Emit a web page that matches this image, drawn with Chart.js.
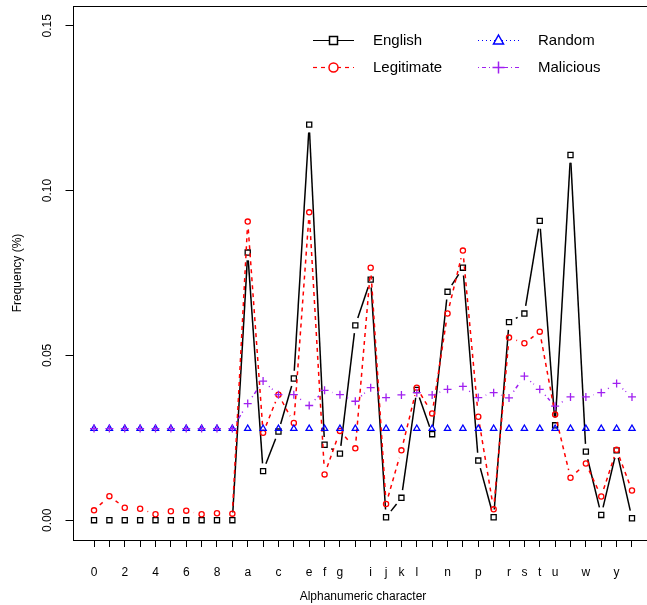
<!DOCTYPE html>
<html>
<head>
<meta charset="utf-8">
<script src="https://cdn.jsdelivr.net/npm/chart.js@4/dist/chart.umd.min.js"></script>
<style>
  html, body { margin: 0; padding: 0; background: #fff; overflow: hidden; }
  #wrap { position: relative; width: 660px; height: 605px; }
</style>
</head>
<body>
<div id="wrap"><canvas id="chart"></canvas></div>
<script>
// categories on the x axis
const categories = ['0','1','2','3','4','5','6','7','8','9',
  'a','b','c','d','e','f','g','h','i','j','k','l','m',
  'n','o','p','q','r','s','t','u','v','w','x','y','z'];

// labels R kept after dropping the overlapping ones
const shownLabels = ['0','2','4','6','8','a','c','e','f','g','i','j','k','l','n','p','r','s','t','u','w','y'];

const english = [0, 0, 0, 0, 0, 0, 0, 0, 0, 0,
  0.0812, 0.0149, 0.0269, 0.0430, 0.1200, 0.0229, 0.0202, 0.0591, 0.0730, 0.0009,
  0.0068, 0.0395, 0.0261, 0.0693, 0.0766, 0.0181, 0.0009, 0.0601, 0.0627, 0.0908,
  0.0288, 0.1108, 0.0208, 0.0016, 0.0212, 0.0006];

const legitimate = [0.0030, 0.0073, 0.0038, 0.0035, 0.0018, 0.0027, 0.0029, 0.0018, 0.0021, 0.0020,
  0.0906, 0.0265, 0.0381, 0.0295, 0.0934, 0.0139, 0.0271, 0.0218, 0.0766, 0.0049,
  0.0212, 0.0402, 0.0324, 0.0627, 0.0818, 0.0314, 0.0033, 0.0554, 0.0537, 0.0572,
  0.0321, 0.0129, 0.0172, 0.0072, 0.0214, 0.0090];

const random = [0.0278, 0.0278, 0.0278, 0.0278, 0.0278, 0.0278, 0.0278, 0.0278, 0.0278, 0.0278,
  0.0278, 0.0278, 0.0278, 0.0278, 0.0278, 0.0278, 0.0278, 0.0278, 0.0278, 0.0278,
  0.0278, 0.0278, 0.0278, 0.0278, 0.0278, 0.0278, 0.0278, 0.0278, 0.0278, 0.0278,
  0.0278, 0.0278, 0.0278, 0.0278, 0.0278, 0.0278];

const malicious = [0.0278, 0.0278, 0.0278, 0.0278, 0.0278, 0.0278, 0.0278, 0.0278, 0.0278, 0.0278,
  0.0354, 0.0422, 0.0381, 0.0381, 0.0348, 0.0394, 0.0381, 0.0361, 0.0402, 0.0372,
  0.0380, 0.0387, 0.0380, 0.0397, 0.0406, 0.0372, 0.0387, 0.0371, 0.0437, 0.0397,
  0.0346, 0.0374, 0.0374, 0.0387, 0.0415, 0.0374];

const yTicks = [0, 0.05, 0.10, 0.15];
const yTickLabels = ['0.00', '0.05', '0.10', '0.15'];

const FONT = '"Liberation Sans", Arial, Helvetica, sans-serif';
const PURPLE = '#A020F0';
const GAP = 7.8; // R type="b": lines stop short of the points

const toXY = arr => arr.map((v, i) => ({ x: i, y: v }));

function series(label, data, color, dash, style, radius, order) {
  return {
    label: label,
    data: toXY(data),
    showLine: false,
    borderColor: color,
    borderWidth: 1.5,
    rDash: dash,
    pointStyle: style,
    pointRadius: radius,
    pointBorderColor: color,
    pointBackgroundColor: 'rgba(0,0,0,0)',
    pointBorderWidth: 1.3,
    order: order
  };
}

// connect the library's points, leaving a gap round each point
const gapLines = {
  id: 'gapLines',
  afterDatasetDraw(chart, args) {
    const ds = chart.data.datasets[args.index];
    const pts = args.meta.data;
    const ctx = chart.ctx;
    ctx.save();
    ctx.strokeStyle = ds.borderColor;
    ctx.lineWidth = ds.borderWidth;
    ctx.setLineDash(ds.rDash);
    for (let i = 1; i < pts.length; i++) {
      const p0 = pts[i - 1], p1 = pts[i];
      const dx = p1.x - p0.x, dy = p1.y - p0.y;
      const len = Math.hypot(dx, dy);
      if (len <= 2 * GAP) continue;
      const ux = dx / len, uy = dy / len;
      ctx.beginPath();
      ctx.moveTo(p0.x + ux * GAP, p0.y + uy * GAP);
      ctx.lineTo(p1.x - ux * GAP, p1.y - uy * GAP);
      ctx.stroke();
    }
    ctx.restore();
  }
};

// R style: box, rotated y labels, axis titles, two-column legend
const rStyle = {
  id: 'rStyle',
  afterDraw(chart) {
    const ctx = chart.ctx;
    const a = chart.chartArea;
    const y = chart.scales.y;
    ctx.save();
    ctx.strokeStyle = '#000';
    ctx.lineWidth = 1;
    ctx.setLineDash([]);
    ctx.strokeRect(Math.round(a.left) + 0.5, Math.round(a.top) + 0.5,
      Math.round(a.right - a.left), Math.round(a.bottom - a.top));

    ctx.fillStyle = '#000';
    ctx.font = '12px ' + FONT;
    ctx.textAlign = 'center';
    ctx.textBaseline = 'middle';
    yTicks.forEach((v, i) => {
      ctx.save();
      ctx.translate(48, y.getPixelForValue(v));
      ctx.rotate(-Math.PI / 2);
      ctx.fillText(yTickLabels[i], 0, 0);
      ctx.restore();
    });
    ctx.save();
    ctx.translate(18, (a.top + a.bottom) / 2);
    ctx.rotate(-Math.PI / 2);
    ctx.fillText('Frequency (%)', 0, 0);
    ctx.restore();
    ctx.fillText('Alphanumeric character', (a.left + a.right) / 2, 597);

    // legend
    const items = [
      { text: 'English', color: '#000', dash: [], shape: 'square', x: 313, y: 40 },
      { text: 'Legitimate', color: '#FF0000', dash: [4, 4], shape: 'circle', x: 313, y: 67 },
      { text: 'Random', color: '#0000FF', dash: [1, 3], shape: 'triangle', x: 478, y: 40 },
      { text: 'Malicious', color: PURPLE, dash: [1, 3, 4, 3], shape: 'plus', x: 478, y: 67 }
    ];
    ctx.font = '15px ' + FONT;
    ctx.textAlign = 'left';
    items.forEach(it => {
      ctx.strokeStyle = it.color;
      ctx.lineWidth = 1.2;
      ctx.setLineDash(it.dash);
      ctx.beginPath();
      ctx.moveTo(it.x, it.y + 0.5);
      ctx.lineTo(it.x + 41, it.y + 0.5);
      ctx.stroke();
      ctx.setLineDash([]);
      ctx.lineWidth = 1.5;
      const cx = it.x + 20.5, cy = it.y + 0.5;
      ctx.beginPath();
      if (it.shape === 'square') {
        ctx.fillStyle = '#fff';
        ctx.fillRect(cx - 4, cy - 4, 8, 8);
        ctx.strokeRect(cx - 4, cy - 4, 8, 8);
      } else if (it.shape === 'circle') {
        ctx.fillStyle = '#fff';
        ctx.arc(cx, cy, 4.5, 0, Math.PI * 2);
        ctx.fill();
        ctx.stroke();
      } else if (it.shape === 'triangle') {
        ctx.fillStyle = '#fff';
        ctx.moveTo(cx, cy - 5.5);
        ctx.lineTo(cx + 5, cy + 3.5);
        ctx.lineTo(cx - 5, cy + 3.5);
        ctx.closePath();
        ctx.fill();
        ctx.stroke();
      } else {
        ctx.moveTo(cx - 6, cy); ctx.lineTo(cx + 6, cy);
        ctx.moveTo(cx, cy - 6); ctx.lineTo(cx, cy + 6);
        ctx.stroke();
      }
      ctx.fillStyle = '#000';
      ctx.textBaseline = 'middle';
      ctx.fillText(it.text, it.x + 60, it.y + 1);
    });
    ctx.restore();
  }
};

new Chart(document.getElementById('chart'), {
  type: 'line',
  data: {
    datasets: [
      series('English', english, '#000000', [], 'rect', 3.6, 4),
      series('Legitimate', legitimate, '#FF0000', [4, 4], 'circle', 2.6, 3),
      series('Random', random, '#0000FF', [1, 3], 'triangle', 3.6, 2),
      series('Malicious', malicious, PURPLE, [1, 3, 4, 3], 'cross', 4, 1)
    ]
  },
  options: {
    responsive: true,
    maintainAspectRatio: false,
    animation: false,
    layout: { padding: { top: 6, right: 6.5, left: 0, bottom: 0 } },
    plugins: {
      legend: { display: false },
      tooltip: { enabled: false }
    },
    scales: {
      x: {
        type: 'linear',
        min: -1.4,
        max: 36.4,
        afterBuildTicks: s => { s.ticks = categories.map((c, i) => ({ value: i })); },
        afterFit: s => { s.height = 65; },
        border: { display: false },
        grid: { drawOnChartArea: false, drawTicks: true, tickLength: 7, color: '#000', lineWidth: 1 },
        ticks: {
          autoSkip: false,
          maxRotation: 0,
          padding: 18,
          color: '#000',
          font: { family: FONT, size: 12 },
          callback: v => shownLabels.includes(categories[v]) ? categories[v] : ''
        }
      },
      y: {
        min: -0.006,
        max: 0.156,
        afterBuildTicks: s => { s.ticks = yTicks.map(v => ({ value: v })); },
        afterFit: s => { s.width = 72.5; },
        border: { display: false },
        grid: { drawOnChartArea: false, drawTicks: true, tickLength: 7, color: '#000', lineWidth: 1 },
        ticks: { display: false }
      }
    }
  },
  plugins: [gapLines, rStyle]
});
</script>
</body>
</html>
